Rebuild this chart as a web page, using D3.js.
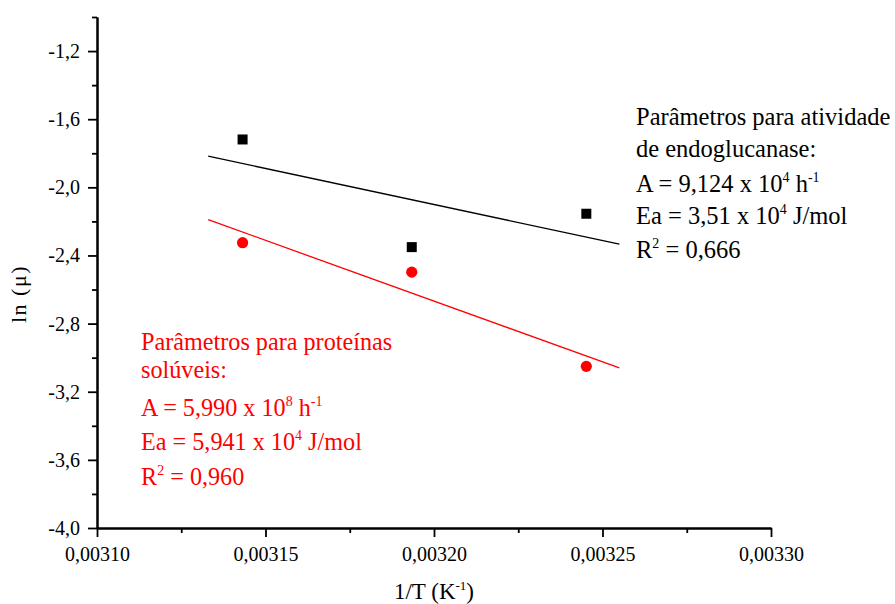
<!DOCTYPE html>
<html>
<head>
<meta charset="utf-8">
<script src="https://cdn.jsdelivr.net/npm/d3@7"></script>
<style>
  body { margin: 0; background: #fff; }
  text { font-family: "Liberation Serif", "Times New Roman", serif; }
</style>
</head>
<body>
<div id="chart"></div>
<script>
// 1/T (K^-1) for 45, 40, 35 C
var invT = [0.0031432, 0.0031934, 0.0032452];
var lnEndo = [-1.719, -2.351, -2.155];   // endoglucanase activity
var lnProt = [-2.325, -2.498, -3.051];   // soluble proteins
var fitRange = [0.003133, 0.003255];
var xMajor = [0.00310, 0.00315, 0.00320, 0.00325, 0.00330];
var xMinor = [0.003125, 0.003175, 0.003225, 0.003275];
var yMajor = [-4.0, -3.6, -3.2, -2.8, -2.4, -2.0, -1.6, -1.2];
var yMinor = [-3.8, -3.4, -3.0, -2.6, -2.2, -1.8, -1.4, -1.0];

// annotation lines: [text, superscript] pairs
var endoNote = [
    [["Parâmetros para atividade", ""]],
    [["de endoglucanase:", ""]],
    [["A = 9,124 x 10", "4"], [" h", "-1"]],
    [["Ea = 3,51 x 10", "4"], [" J/mol", ""]],
    [["R", "2"], [" = 0,666", ""]]
];
var protNote = [
    [["Parâmetros para proteínas", ""]],
    [["solúveis:", ""]],
    [["A = 5,990 x 10", "8"], [" h", "-1"]],
    [["Ea = 5,941 x 10", "4"], [" J/mol", ""]],
    [["R", "2"], [" = 0,960", ""]]
];

var W = 895, H = 604;
var mLeft = 97, mRight = 771, mTop = 17, mBottom = 528;

var loc = d3.formatLocale({decimal: ",", thousands: ".", grouping: [3], currency: ["", ""], minus: "-"});

var svg = d3.select("#chart").append("svg")
    .attr("width", W)
    .attr("height", H);

var x = d3.scaleLinear().domain([0.00310, 0.00330]).range([mLeft, mRight]);
var y = d3.scaleLinear().domain([-4.0, -1.0]).range([mBottom, mTop]);

// least squares fit
function fit(xs, ys) {
    var mx = d3.mean(xs), my = d3.mean(ys);
    var sxy = d3.sum(xs, (d, i) => (d - mx) * (ys[i] - my));
    var sxx = d3.sum(xs, (d) => (d - mx) * (d - mx));
    var b = sxy / sxx;
    return (v) => my + b * (v - mx);
}

function styleAxis(g) {
    g.attr("font-size", 20).attr("font-family", "'Liberation Serif', serif");
    g.select(".domain").attr("stroke", "#000").attr("stroke-width", 2);
    g.selectAll(".tick line").attr("stroke", "#000").attr("stroke-width", 1.8);
    g.selectAll(".tick text").attr("fill", "#000");
}

// minor ticks
svg.append("g")
    .attr("transform", "translate(0," + mBottom + ")")
    .call(d3.axisBottom(x).tickValues(xMinor).tickSize(5).tickSizeOuter(0).tickFormat(""))
    .call(styleAxis);
svg.append("g")
    .attr("transform", "translate(" + mLeft + ",0)")
    .call(d3.axisLeft(y).tickValues(yMinor).tickSize(5).tickSizeOuter(0).tickFormat(""))
    .call(styleAxis);

// major ticks
svg.append("g")
    .attr("transform", "translate(0," + mBottom + ")")
    .call(d3.axisBottom(x).tickValues(xMajor).tickSize(9).tickSizeOuter(0).tickPadding(10).tickFormat(loc.format(".5f")))
    .call(styleAxis);
svg.append("g")
    .attr("transform", "translate(" + mLeft + ",0)")
    .call(d3.axisLeft(y).tickValues(yMajor).tickSize(9).tickSizeOuter(0).tickPadding(8).tickFormat(loc.format(".1f")))
    .call(styleAxis);

// axis titles
var xt = svg.append("text")
    .attr("x", 434).attr("y", 599)
    .attr("text-anchor", "middle")
    .style("font-size", "23px");
xt.append("tspan").text("1/T (K");
xt.append("tspan").attr("dy", -9).style("font-size", "13px").text("-1");
xt.append("tspan").attr("dy", 9).text(")");

svg.append("text")
    .attr("transform", "translate(26,294) rotate(-90)")
    .attr("text-anchor", "middle")
    .style("font-size", "22px")
    .style("letter-spacing", "1.5px")
    .text("ln (μ)");

// fitted lines and points
var series = [
    {ys: lnEndo, color: "#000", shape: "square"},
    {ys: lnProt, color: "#ff0000", shape: "circle"}
];

series.forEach(function (s) {
    var f = fit(invT, s.ys);
    svg.append("path")
        .datum(fitRange)
        .attr("fill", "none")
        .attr("stroke", s.color)
        .attr("stroke-width", 1.3)
        .attr("d", d3.line().x((d) => x(d)).y((d) => y(f(d))));

    var pts = invT.map((d, i) => ({x: d, y: s.ys[i]}));
    if (s.shape == "square") {
        svg.selectAll(null).data(pts).enter().append("rect")
            .attr("x", (d) => x(d.x) - 5)
            .attr("y", (d) => y(d.y) - 5)
            .attr("width", 10).attr("height", 10)
            .attr("fill", s.color);
    } else {
        svg.selectAll(null).data(pts).enter().append("circle")
            .attr("cx", (d) => x(d.x))
            .attr("cy", (d) => y(d.y))
            .attr("r", 5.6)
            .attr("fill", s.color);
    }
});

function note(lines, x0, baselines, color, size) {
    lines.forEach(function (parts, i) {
        var t = svg.append("text")
            .attr("x", x0).attr("y", baselines[i])
            .attr("fill", color)
            .style("font-size", size + "px");
        var back = 0;
        parts.forEach(function (p) {
            t.append("tspan").attr("dy", back).text(p[0]);
            back = 0;
            if (p[1]) {
                t.append("tspan")
                    .attr("dy", -10)
                    .style("font-size", "14px")
                    .text(p[1]);
                back = 10;
            }
        });
    });
}

note(endoNote, 636, [125, 157, 192, 224, 258], "#000", 24.5);
note(protNote, 141, [350, 378, 416, 450, 485], "#ff0000", 24.2);
</script>
</body>
</html>
